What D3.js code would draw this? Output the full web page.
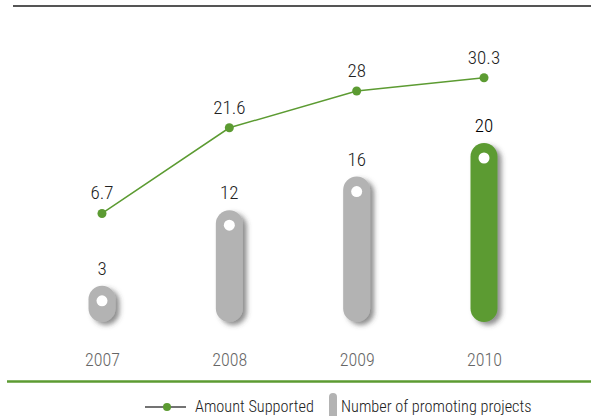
<!DOCTYPE html>
<html>
<head>
<meta charset="utf-8">
<script src="https://cdn.jsdelivr.net/npm/d3@7"></script>
<style>
  body { margin: 0; background: #fff; }
  text { font-family: "Roboto Condensed", "Liberation Sans Narrow", "DejaVu Sans Condensed", sans-serif; font-weight: 300; }
</style>
</head>
<body>
<div id="chart"></div>
<script>
// data
var years = ["2007", "2008", "2009", "2010"];
var amountSupported = [6.7, 21.6, 28, 30.3];
var promotingProjects = [3, 12, 16, 20];
var amountLabels = ["6.7", "21.6", "28", "30.3"];
var legendLabels = ["Amount Supported", "Number of promoting projects"];

var width = 591, height = 416;
var green = "#5c9b32", grey = "#b3b3b3";

var svg = d3.select("#chart").append("svg")
    .attr("width", width)
    .attr("height", height);

var defs = svg.append("defs");
var f = defs.append("filter").attr("id", "shadow")
    .attr("x", "-50%").attr("y", "-20%").attr("width", "220%").attr("height", "150%");
f.append("feDropShadow")
    .attr("dx", 4).attr("dy", 3).attr("stdDeviation", 2.5)
    .attr("flood-color", "#444").attr("flood-opacity", 0.6);

// scales
var x = d3.scalePoint().domain(years).range([102, 484]);
var yBar = d3.scaleLinear().domain([0, 20]).range([311, 143]);
var yLine = d3.scaleLinear().domain([0, 32]).range([252, 68]);
var base = 322, barW = 27;

// top rule and bottom green rule
svg.append("line").attr("x1", 13).attr("x2", width).attr("y1", 6).attr("y2", 6)
    .attr("stroke", "#555").attr("stroke-width", 2);
svg.append("line").attr("x1", 7).attr("x2", width).attr("y1", 381.5).attr("y2", 381.5)
    .attr("stroke", green).attr("stroke-width", 2.5);

// bars
var bars = years.map(function(d, i) { return {year: d, v: promotingProjects[i], last: i === years.length - 1}; });

svg.selectAll(".bar").data(bars).enter().append("rect")
    .attr("class", "bar")
    .attr("x", function(d) { return x(d.year) - barW / 2; })
    .attr("y", function(d) { return yBar(d.v); })
    .attr("width", barW)
    .attr("height", function(d) { return base - yBar(d.v); })
    .attr("rx", barW / 2).attr("ry", barW / 2)
    .attr("fill", function(d) { return d.last ? green : grey; })
    .attr("filter", "url(#shadow)");

svg.selectAll(".hole").data(bars).enter().append("circle")
    .attr("cx", function(d) { return x(d.year); })
    .attr("cy", function(d) { return yBar(d.v) + 15; })
    .attr("r", 5.5)
    .attr("fill", "#fff");

svg.selectAll(".barlabel").data(bars).enter().append("text")
    .attr("x", function(d) { return x(d.year); })
    .attr("y", function(d) { return yBar(d.v) - 11; })
    .attr("text-anchor", "middle")
    .attr("font-size", 19)
    .attr("fill", function(d) { return d.last ? "#000" : "#222"; })
    .text(function(d) { return d.v; });

// line
var pts = years.map(function(d, i) { return {year: d, v: amountSupported[i], label: amountLabels[i]}; });
svg.append("path").datum(pts)
    .attr("fill", "none").attr("stroke", green).attr("stroke-width", 1.5)
    .attr("d", d3.line().x(function(d) { return x(d.year); }).y(function(d) { return yLine(d.v); }));
svg.selectAll(".pt").data(pts).enter().append("circle")
    .attr("cx", function(d) { return x(d.year); })
    .attr("cy", function(d) { return yLine(d.v); })
    .attr("r", 4.5).attr("fill", green);
svg.selectAll(".ptlabel").data(pts).enter().append("text")
    .attr("x", function(d) { return x(d.year); })
    .attr("y", function(d) { return yLine(d.v) - 14; })
    .attr("text-anchor", "middle").attr("font-size", 19).attr("fill", "#222")
    .text(function(d) { return d.label; });

// year axis labels
svg.append("g").attr("transform", "translate(0,366)")
    .call(d3.axisBottom(x).tickSize(0).tickPadding(0))
    .call(function(g) { g.select(".domain").remove(); })
    .selectAll("text")
    .attr("dy", 0).attr("font-size", 18).attr("fill", "#666")
    .style("font-family", "\"Roboto Condensed\", \"Liberation Sans Narrow\", \"DejaVu Sans Condensed\", sans-serif")
    .style("font-weight", 300);

// legend
var lg = svg.append("g");
lg.append("line").attr("x1", 145).attr("x2", 186).attr("y1", 407).attr("y2", 407)
    .attr("stroke", "#444").attr("stroke-width", 1.5);
lg.append("circle").attr("cx", 167).attr("cy", 407).attr("r", 4).attr("fill", green);
lg.append("text").attr("x", 195).attr("y", 412).attr("font-size", 16.3).attr("fill", "#222")
    .text(legendLabels[0]);
lg.append("rect").attr("x", 329).attr("y", 393).attr("width", 8).attr("height", 30)
    .attr("rx", 4).attr("fill", grey);
lg.append("text").attr("x", 341).attr("y", 412).attr("font-size", 16.3).attr("fill", "#222")
    .text(legendLabels[1]);
</script>
</body>
</html>
